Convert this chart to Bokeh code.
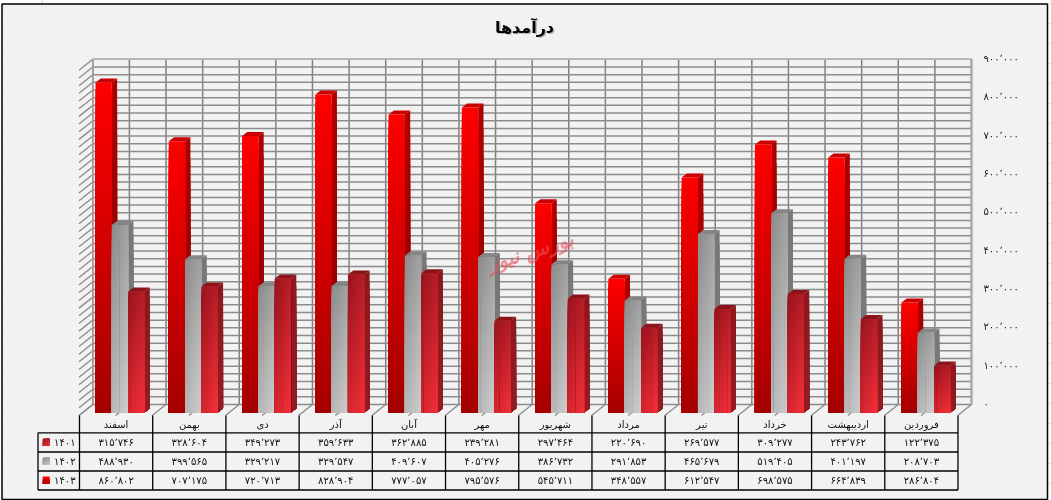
from bokeh.plotting import figure
from bokeh.models import Range1d, ColumnDataSource
from bokeh.core.properties import value
from bokeh.embed import file_html
from bokeh.resources import INLINE

# ---- data ----
months = ["اسفند", "بهمن", "دی", "آذر", "آبان", "مهر", "شهریور", "مرداد", "تیر", "خرداد", "اردیبهشت", "فروردین"]
s1403 = [860802, 707175, 720713, 828904, 777057, 795576, 545711, 348557, 612547, 698575, 664839, 286804]
s1402 = [488930, 399565, 329217, 329547, 409607, 405276, 386732, 291853, 465679, 519405, 401197, 208703]
s1401 = [315746, 328604, 349273, 359633, 362885, 239281, 297464, 220690, 269577, 309277, 243762, 122375]
series_names = ["۱۴۰۱", "۱۴۰۲", "۱۴۰۳"]
y_ticks = [0, 100000, 200000, 300000, 400000, 500000, 600000, 700000, 800000, 900000]
title_text = "درآمدها"
watermark = "بورس نیوز"

FONT = "DejaVu Sans"
W, H = 1051, 500
CAT_PX = 73.27
VAL_PX = 7.67 / 20000
X0, Y0 = 95.0, 412.0


def X(px):
    return (px - X0) / CAT_PX


def Y(py):
    return (Y0 - py) / VAL_PX


def fa(n):
    s = f"{n:,}".replace(",", "٬")
    return s.translate(str.maketrans("0123456789", "۰۱۲۳۴۵۶۷۸۹"))


p = figure(width=W, height=H, output_backend="svg", toolbar_location=None,
           x_range=Range1d(X(0), X(W)), y_range=Range1d(Y(H), Y(0)),
           x_axis_location=None, y_axis_location=None, min_border=0,
           background_fill_color="#ffffff", border_fill_color="#ffffff",
           outline_line_color=None)
p.grid.visible = False
p.styles = {"position": "fixed", "left": "0", "top": "0"}


def seg(x0, y0, x1, y1, color, width=1.0):
    p.segment(x0=x0, y0=y0, x1=x1, y1=y1, line_color=color, line_width=width)


# faint page ruler outside the frame
ry = [3 + 20 * i for i in range(25)]
for xa, xb in ((0, 1), (1048, W)):
    seg([X(xa)] * len(ry), [Y(v) for v in ry], [X(xb)] * len(ry), [Y(v) for v in ry], "#dcdcdc")
seg([X(41.5)], [Y(0)], [X(41.5)], [Y(3)], "#cfcfcf")

# frame
p.quad(left=[X(1.5)], right=[X(1047)], top=[Y(3.5)], bottom=[Y(499)],
       fill_color="#f2f2f2", line_color="#000000", line_width=1.5)

# back wall
WX0, WX1 = 92.3, 971.0
WDX, WDY = 13.8, 11.0
grid_vals = list(range(0, 900001, 20000))
wall_shift = Y(404.0)
gy = [v + wall_shift for v in grid_vals]
half = (WX1 - WX0) / 24
vx = [WX0 + half * k for k in range(25)]
seg([X(WX0 - WDX)] * len(gy), [Y(404 - (v - wall_shift) * VAL_PX + WDY) for v in gy],
    [X(WX0)] * len(gy), gy, "#8a8a8a", 1.3)
seg([X(v) for v in vx], [gy[0]] * 25, [X(v) for v in vx], [gy[-1]] * 25, "#808080", 1.5)
seg([X(WX0)] * len(gy), gy, [X(WX1)] * len(gy), gy, "#8c8c8c", 1.5)
seg([X(WX0)], [gy[-1]], [X(WX1)], [gy[-1]], "#b4b4b4", 1.5)
seg([X(WX1)], [gy[0]], [X(WX1)], [gy[-1]], "#a8a8a8", 2.0)
seg([X(WX0)], [gy[0]], [X(WX0)], [gy[-1]], "#a0a0a0", 1.5)
seg([X(v) for v in vx], [gy[0]] * 25, [X(v - WDX) for v in vx], [Y(415)] * 25, "#8a8a8a", 1.3)


def lerp(c0, c1, t):
    return "#%02x%02x%02x" % tuple(round(a + (b - a) * t) for a, b in zip(c0, c1))


BAR_W = 16.33 / CAT_PX
DX = 5.3 / CAT_PX
DY = 4.0 / VAL_PX
styles = {
    "red": dict(c0=(255, 0, 0), c1=(164, 0, 0), hw=0.0, top="#cc0000", side0=(176, 0, 0), side1=(136, 0, 0)),
    "gray": dict(c0=(138, 138, 138), c1=(206, 206, 206), hw=0.35, top="#858585", side0=(120, 120, 120), side1=(120, 120, 120)),
    "crim": dict(c0=(150, 20, 28), c1=(244, 48, 58), hw=0.35, top="#8a141a", side0=(140, 24, 30), side1=(146, 28, 34)),
}


def shaded(left, right, top, bottom, st, nx=6, ny=40):
    # painter's order: each cell runs on to the bar's far corner, so no seams show
    d = dict(l=[], r=[], t=[], b=[], c=[])
    hw = st["hw"]
    cols = 1 if hw == 0 else nx
    for i in range(cols):
        for j in range(ny):
            tx = (i + 0.5) / cols
            ty = (j + 0.5) / ny
            d["l"].append(left + (right - left) * i / cols)
            d["r"].append(right)
            d["t"].append(top + (bottom - top) * j / ny)
            d["b"].append(bottom)
            d["c"].append(lerp(st["c0"], st["c1"], (1 - hw) * ty + hw * tx))
    p.quad(left="l", right="r", top="t", bottom="b", fill_color="c", line_color=None,
           source=ColumnDataSource(d))


def bar(x, v, st):
    # top face
    p.patch([x, x + BAR_W, x + BAR_W + DX, x + DX], [v, v, v + DY, v + DY],
            fill_color=st["top"], line_color=None)
    # side face
    n = 12
    xr = x + BAR_W
    for j in range(n):
        ya = v * (1 - j / n)
        c = lerp(st["side0"], st["side1"], (j + 0.5) / n)
        p.patch([xr, xr + DX, xr + DX, xr], [ya, ya + DY, DY, 0], fill_color=c, line_color=None)
    shaded(x, x + BAR_W, v, 0, st)


for i in range(len(months)):
    bar(i, s1403[i], styles["red"])
    bar(i + BAR_W, s1402[i], styles["gray"])
    bar(i + 2 * BAR_W, s1401[i], styles["crim"])

# value labels
p.text(x=[X(983)] * len(y_ticks), y=[v + Y(403) for v in y_ticks], text=[fa(v) for v in y_ticks],
       text_font=value(FONT), text_font_size="10px", text_color="#222222",
       text_align="left", text_baseline="middle")

# table
TX = [79.0 + k * (878.5 / 12) for k in range(13)]
TY = [432.3, 451.5, 470.5, 489.5]
seg([X(v) for v in TX], [Y(415)] * 13, [X(v) for v in TX], [Y(TY[3])] * 13, "#000000", 1.3)
seg([X(37.5)] * 4, [Y(v) for v in TY], [X(TX[-1])] * 4, [Y(v) for v in TY], "#000000", 1.3)
seg([X(37.5)], [Y(TY[0])], [X(37.5)], [Y(TY[3])], "#000000", 1.3)

centers = [(TX[k] + TX[k + 1]) / 2 for k in range(12)]
p.text(x=[X(v) for v in centers], y=[Y(424)] * 12, text=months, text_font=value(FONT),
       text_font_size="10px", text_color="#111111", text_align="center", text_baseline="middle")
rows = [s1401, s1402, s1403]
ry = [441.7, 460.8, 479.8]
for r, vals in enumerate(rows):
    p.text(x=[X(v) for v in centers], y=[Y(ry[r])] * 12, text=[fa(v) for v in vals],
           text_font=value(FONT), text_font_size="10px", text_color="#111111",
           text_align="center", text_baseline="middle")
p.text(x=[X(75)] * 3, y=[Y(v) for v in ry], text=series_names, text_font=value(FONT),
       text_font_size="10px", text_color="#111111", text_align="right", text_baseline="middle")
key_styles = [styles["crim"], styles["gray"], styles["red"]]
for r, st in enumerate(key_styles):
    shaded(X(42.3), X(49), Y(ry[r] - 3.7), Y(ry[r] + 3.7), st, nx=4, ny=7)

# title with soft shadow
p.text(x=[X(525.5)], y=[Y(28)], text=[title_text], text_font=value(FONT), text_font_size="16px",
       text_font_style="bold", text_color="#000000", text_alpha=0.25, text_align="center", text_baseline="middle")
p.text(x=[X(524)], y=[Y(26.5)], text=[title_text], text_font=value(FONT), text_font_size="16px",
       text_font_style="bold", text_color="#000000", text_align="center", text_baseline="middle")

# watermark
p.text(x=[X(530)], y=[Y(251)], text=[watermark], text_font=value(FONT), text_font_size="20px",
       text_font_style="bold italic", text_color="#e8505c", text_alpha=0.6, angle=0.3,
       text_align="center", text_baseline="middle")

open("out.html", "w").write(file_html(p, INLINE))
